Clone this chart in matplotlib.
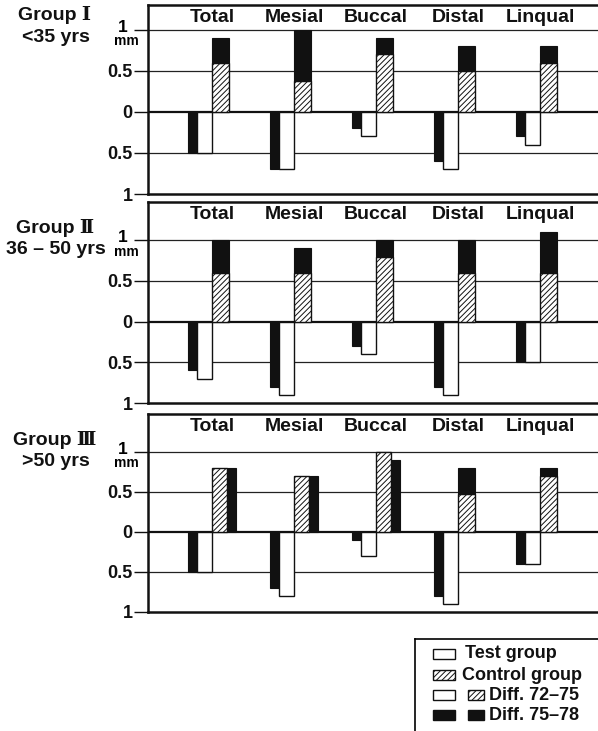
import matplotlib
matplotlib.use("Agg")
import matplotlib.pyplot as plt
from matplotlib.patches import Rectangle
import numpy as np

plt.rcParams['font.family'] = ['Liberation Sans', 'DejaVu Serif']
plt.rcParams['hatch.linewidth'] = 0.7
plt.rcParams['hatch.color'] = '#333333'

categories = ['Total', 'Mesial', 'Buccal', 'Distal', 'Linqual']

group_names = ['Group Ⅰ', 'Group Ⅱ', 'Group Ⅲ']
group_ages = ['<35 yrs', '36 – 50 yrs', '>50 yrs']

# test group (drawn below zero): black = diff 75-78, white = diff 72-75
test_7578 = [[0.5, 0.7, 0.2, 0.6, 0.3],
             [0.6, 0.8, 0.3, 0.8, 0.5],
             [0.5, 0.7, 0.1, 0.8, 0.4]]
test_7275 = [[0.5, 0.7, 0.3, 0.7, 0.4],
             [0.7, 0.9, 0.4, 0.9, 0.5],
             [0.5, 0.8, 0.3, 0.9, 0.4]]
# control group (drawn above zero): hatched = diff 72-75, black = diff 75-78
ctrl_7275 = [[0.6, 0.37, 0.7, 0.5, 0.6],
             [0.6, 0.6, 0.8, 0.6, 0.6],
             [0.8, 0.7, 1.0, 0.47, 0.7]]
ctrl_7578 = [[0.3, 0.63, 0.2, 0.3, 0.2],
             [0.4, 0.3, 0.2, 0.4, 0.5],
             [0.8, 0.7, 0.9, 0.33, 0.1]]
# stacked on top of hatched bar, or drawn beside it
ctrl_stacked = [[True] * 5,
                [True] * 5,
                [False, False, False, True, True]]

# panel layout in pixels (top, bottom)
W, H = 598, 731
panels = [(5, 194), (202, 403), (414, 612)]
ytops = [1.30, 1.47, 1.47]
label_y = [1.15, 1.32, 1.31]
group_text_y = [(15, 38), (228, 250), (440, 462)]

fig = plt.figure(figsize=(W / 100, H / 100), dpi=100)

px = 82.0
x_left, x_right = 148, 625
x0 = 212  # centre of first category

for g in range(3):
    top, bot = panels[g]
    ax = fig.add_axes([x_left / W, 1 - bot / H, (x_right - x_left) / W, (bot - top) / H])
    ax.set_xlim(-(x0 - x_left) / px, (x_right - x0) / px)
    ax.set_ylim(-1, ytops[g])
    for s in ax.spines.values():
        s.set_linewidth(1.8)
        s.set_color('#111111')

    for yv in [1, 0.5, -0.5]:
        ax.axhline(yv, color='#222222', lw=0.9, zorder=1)
    ax.axhline(0, color='#111111', lw=1.6, zorder=1)

    xs = np.arange(len(categories))
    wb, ww, wp = 9 / px, 15 / px, 17 / px
    # test group bars
    ax.bar(xs - ww - wb, [-v for v in test_7578[g]], width=wb, align='edge',
           color='#111111', edgecolor='#111111', lw=0.8, zorder=3)
    ax.bar(xs - ww, [-v for v in test_7275[g]], width=ww, align='edge',
           color='white', edgecolor='#111111', lw=1.0, zorder=3)
    # control group bars
    for i in range(len(categories)):
        if ctrl_stacked[g][i]:
            ax.bar(xs[i], ctrl_7275[g][i], width=wp, align='edge', color='white',
                   edgecolor='#111111', hatch='//////', lw=1.0, zorder=3)
            ax.bar(xs[i], ctrl_7578[g][i], bottom=ctrl_7275[g][i], width=wp,
                   align='edge', color='#111111', edgecolor='#111111', lw=0.8, zorder=3)
        else:
            wh = 15 / px
            ax.bar(xs[i], ctrl_7275[g][i], width=wh, align='edge', color='white',
                   edgecolor='#111111', hatch='//////', lw=1.0, zorder=3)
            ax.bar(xs[i] + wh, ctrl_7578[g][i], width=wb, align='edge',
                   color='#111111', edgecolor='#111111', lw=0.8, zorder=3)

    for i, c in enumerate(categories):
        ax.text(xs[i], label_y[g], c, ha='center', va='center',
                fontsize=14, fontweight='bold', color='#111111')

    ax.set_xticks([])
    ax.set_yticks([1, 0.5, 0, -0.5, -1])
    ax.set_yticklabels(['', '0.5', '0', '0.5', '1'], fontsize=13, fontweight='bold')
    ax.tick_params(axis='y', length=10, width=1.0, pad=1, direction='out', colors='#111111')
    ax.text(-0.052, 1.03, '1', transform=ax.get_yaxis_transform(),
            ha='center', va='center', fontsize=12.5, fontweight='bold')
    ax.text(-0.046, 1.0 - 0.14, 'mm', transform=ax.get_yaxis_transform(),
            ha='center', va='center', fontsize=10, fontweight='bold')

    ty1, ty2 = group_text_y[g]
    fig.text(55 / W, 1 - ty1 / H, group_names[g], ha='center', va='center',
             fontsize=14, fontweight='bold', color='#111111')
    fig.text(56 / W, 1 - ty2 / H, group_ages[g], ha='center', va='center',
             fontsize=14, fontweight='bold', color='#111111')

# legend drawn by hand
lax = fig.add_axes([415 / W, -0.02, (640 - 415) / W, (731 - 639) / H + 0.02])
lax.set_xlim(415, 640)
lax.set_ylim(731 + 0.02 * H, 639)
lax.set_xticks([])
lax.set_yticks([])
for s in lax.spines.values():
    s.set_linewidth(1.2)

legend_rows = [
    ('Test group', [('white', None)], 465, 654),
    ('Control group', [('white', '//////')], 462, 675),
    ('Diff. 72–75', [('white', None), ('white', '//////')], 489, 695),
    ('Diff. 75–78', [('#111111', None), ('#111111', None)], 489, 715),
]
for label, boxes, tx, ty in legend_rows:
    for k, (fc, hatch) in enumerate(boxes):
        bx = 433 if k == 0 else 468
        bw = 22 if k == 0 else 16
        lax.add_patch(Rectangle((bx, ty - 5), bw, 10, facecolor=fc, edgecolor='#111111',
                                hatch=hatch, lw=1.0))
    lax.text(tx, ty, label, ha='left', va='center', fontsize=13, fontweight='bold',
             color='#111111')

fig.savefig('out.png', dpi=100)
